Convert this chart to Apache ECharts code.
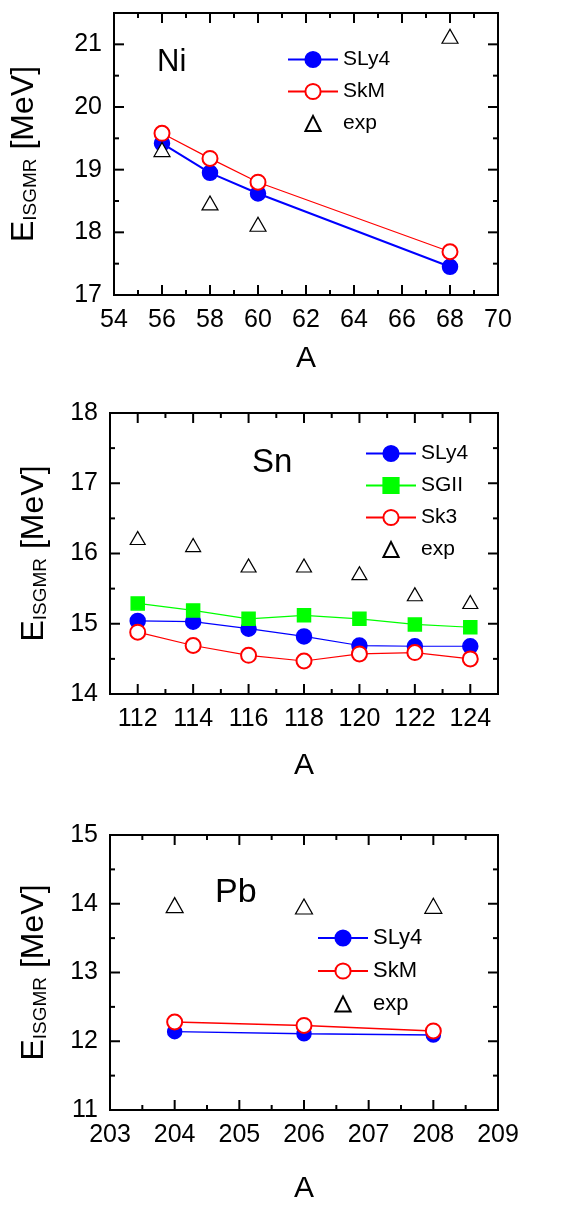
<!DOCTYPE html>
<html>
<head>
<meta charset="utf-8">
<script src="https://cdn.jsdelivr.net/npm/echarts@6/dist/echarts.min.js"></script>
<style>
  html, body { margin: 0; padding: 0; background: #fff; }
  #chart { width: 572px; height: 1205px; }
</style>
</head>
<body>
<div id="chart"></div>
<script>
// Ni
const niA = [56, 58, 60, 68];
const niSLy4 = [19.42, 18.95, 18.62, 17.45];
const niSkM = [19.58, 19.18, 18.80, 17.69];
const niExp = [19.32, 18.47, 18.13, 21.13];
// Sn
const snA = [112, 114, 116, 118, 120, 122, 124];
const snSLy4 = [15.04, 15.03, 14.93, 14.82, 14.69, 14.68, 14.68];
const snSGII = [15.29, 15.19, 15.07, 15.12, 15.07, 14.99, 14.95];
const snSk3 = [14.88, 14.69, 14.55, 14.47, 14.57, 14.59, 14.50];
const snExp = [16.22, 16.12, 15.83, 15.83, 15.72, 15.42, 15.31];
// Pb
const pbA = [204, 206, 208];
const pbSLy4 = [12.14, 12.11, 12.09];
const pbSkM = [12.28, 12.23, 12.15];
const pbExp = [13.98, 13.96, 13.97];

// axis ranges and tick values
const niXRange = [54, 70], niYRange = [17, 21.5];
const snXRange = [111, 125], snYRange = [14, 18];
const pbXRange = [203, 209], pbYRange = [11, 15];
const niXMajor = [54, 56, 58, 60, 62, 64, 66, 68, 70];
const niXMinor = [55, 57, 59, 61, 63, 65, 67, 69];
const niYMajor = [17, 18, 19, 20, 21];
const niYMinor = [17.5, 18.5, 19.5, 20.5];
const snXMajor = [112, 114, 116, 118, 120, 122, 124];
const snXMinor = [113, 115, 117, 119, 121, 123];
const snYMajor = [14, 15, 16, 17, 18];
const snYMinor = [14.5, 15.5, 16.5, 17.5];
const pbXMajor = [203, 204, 205, 206, 207, 208, 209];
const pbXMinor = [203.5, 204.5, 205.5, 206.5, 207.5, 208.5];
const pbYMajor = [11, 12, 13, 14, 15];
const pbYMinor = [11.5, 12.5, 13.5, 14.5];

const FONT = "'Liberation Sans', Arial, sans-serif";
const zip = (xs, ys) => xs.map((x, i) => [x, ys[i]]);

const yName = '{e|E}{s|ISGMR}{u| [MeV]}';

function xAxisOf(grid, range, labels, nameGap) {
  return {
    type: 'value', gridIndex: grid, min: range[0], max: range[1], position: 'bottom',
    axisLine: { show: false }, axisTick: { show: false }, splitLine: { show: false },
    axisLabel: { customValues: labels, color: '#000', fontSize: 25, fontFamily: FONT, margin: 13 },
    name: 'A', nameLocation: 'middle', nameGap: nameGap,
    nameTextStyle: { fontSize: 30, color: '#000', fontFamily: FONT }
  };
}
function yAxisOf(grid, range, labels, nameGap) {
  return {
    type: 'value', gridIndex: grid, min: range[0], max: range[1], position: 'left',
    axisLine: { show: false }, axisTick: { show: false }, splitLine: { show: false },
    axisLabel: { customValues: labels, color: '#000', fontSize: 25, fontFamily: FONT, margin: 12 },
    name: yName, nameLocation: 'middle', nameGap: nameGap, nameRotate: 90,
    nameTextStyle: {
      color: '#000', fontFamily: FONT,
      rich: {
        e: { fontSize: 32, fontFamily: FONT, color: '#000' },
        s: { fontSize: 19, lineHeight: 14, verticalAlign: 'bottom', fontFamily: FONT, color: '#000' },
        u: { fontSize: 32, fontFamily: FONT, color: '#000' }
      }
    }
  };
}

function lineSeries(name, grid, xs, ys, color, width, symbol, size, z) {
  return {
    name: name, type: 'line', xAxisIndex: grid, yAxisIndex: grid,
    data: zip(xs, ys), symbol: symbol, symbolSize: size, z: z,
    lineStyle: { color: color, width: width },
    itemStyle: { color: color, borderColor: color, borderWidth: 1.5 },
    emphasis: { disabled: true }
  };
}
function expSeries(name, grid, xs, ys, size) {
  return {
    name: name, type: 'line', xAxisIndex: grid, yAxisIndex: grid,
    data: zip(xs, ys), symbol: 'triangle', symbolSize: size, z: 10,
    lineStyle: { opacity: 0, width: 0 },
    itemStyle: { color: '#fff', borderColor: '#000', borderWidth: 1.2 },
    emphasis: { disabled: true }
  };
}

function legend(names, left, top, size) {
  return {
    data: names, orient: 'vertical', left: left, top: top, padding: 0,
    itemWidth: 50, itemHeight: 19, itemGap: 11, selectedMode: false,
    formatter: n => n.split('|')[1],
    textStyle: { fontSize: size, lineHeight: 19, color: '#000', fontFamily: FONT }
  };
}

function title(text, left, top, size) {
  return {
    text: text, left: left, top: top, padding: 0,
    textStyle: { fontSize: size, fontWeight: 'normal', color: '#000', fontFamily: FONT }
  };
}

const gridStyle = { show: true, borderColor: '#000', borderWidth: 2, backgroundColor: 'transparent' };

const option = {
  animation: false,
  backgroundColor: '#fff',
  title: [
    title('Ni', 157, 47, 31),
    title('Sn', 252, 446, 33),
    title('Pb', 215, 876, 34)
  ],
  legend: [
    legend(['Ni|SLy4', 'Ni|SkM', 'Ni|exp'], 287, 49, 21),
    legend(['Sn|SLy4', 'Sn|SGII', 'Sn|Sk3', 'Sn|exp'], 365, 443, 21),
    legend(['Pb|SLy4', 'Pb|SkM', 'Pb|exp'], 317, 927, 22)
  ],
  grid: [
    Object.assign({ left: 110, width: 388, top: 13, height: 282 }, gridStyle),
    Object.assign({ left: 110, width: 388, top: 413, height: 281 }, gridStyle),
    Object.assign({ left: 110, width: 388, top: 835, height: 282 }, gridStyle)
  ],
  xAxis: [
    xAxisOf(0, niXRange, niXMajor, 49),
    xAxisOf(1, snXRange, snXMajor, 57),
    xAxisOf(2, pbXRange, pbXMajor, 64)
  ],
  yAxis: [
    yAxisOf(0, niYRange, niYMajor, 74),
    yAxisOf(1, snYRange, snYMajor, 60),
    yAxisOf(2, pbYRange, pbYMajor, 60)
  ],
  series: [
    lineSeries('Ni|SLy4', 0, niA, niSLy4, '#0000ff', 2, 'circle', 15, 3),
    lineSeries('Ni|SkM', 0, niA, niSkM, '#ff0000', 1.2, 'emptyCircle', 15, 4),
    expSeries('Ni|exp', 0, niA, niExp, [16, 14]),
    lineSeries('Sn|SLy4', 1, snA, snSLy4, '#0000ff', 1.2, 'circle', 15, 3),
    lineSeries('Sn|SGII', 1, snA, snSGII, '#00ff00', 1.2, 'rect', 13, 4),
    lineSeries('Sn|Sk3', 1, snA, snSk3, '#ff0000', 1.2, 'emptyCircle', 15, 5),
    expSeries('Sn|exp', 1, snA, snExp, [15, 13]),
    lineSeries('Pb|SLy4', 2, pbA, pbSLy4, '#0000ff', 1.5, 'circle', 14, 3),
    lineSeries('Pb|SkM', 2, pbA, pbSkM, '#ff0000', 1.5, 'emptyCircle', 15, 4),
    expSeries('Pb|exp', 2, pbA, pbExp, [17, 15])
  ]
};

const chart = echarts.init(document.getElementById('chart'), null, { renderer: 'canvas' });
chart.setOption(option);

// inward ticks on all four sides, placed through each grid's own scales
const panels = [
  { grid: 0, xr: niXRange, yr: niYRange, xMajor: niXMajor, xMinor: niXMinor, yMajor: niYMajor, yMinor: niYMinor },
  { grid: 1, xr: snXRange, yr: snYRange, xMajor: snXMajor, xMinor: snXMinor, yMajor: snYMajor, yMinor: snYMinor },
  { grid: 2, xr: pbXRange, yr: pbYRange, xMajor: pbXMajor, xMinor: pbXMinor, yMajor: pbYMajor, yMinor: pbYMinor }
];

function tickGraphics(p) {
  const out = [];
  const at = (x, y) => chart.convertToPixel({ gridIndex: p.grid }, [x, y]);
  const seg = (a, b) => out.push({
    type: 'line', silent: true, z: 100,
    shape: { x1: a[0], y1: a[1], x2: b[0], y2: b[1] },
    style: { stroke: '#000', lineWidth: 2 }
  });
  const addX = (vals, len) => vals.forEach(v => {
    const b = at(v, p.yr[0]), t = at(v, p.yr[1]);
    seg(b, [b[0], b[1] - len]);
    seg(t, [t[0], t[1] + len]);
  });
  const addY = (vals, len) => vals.forEach(v => {
    const l = at(p.xr[0], v), r = at(p.xr[1], v);
    seg(l, [l[0] + len, l[1]]);
    seg(r, [r[0] - len, r[1]]);
  });
  addX(p.xMajor, 10);
  addX(p.xMinor, 5);
  addY(p.yMajor, 10);
  addY(p.yMinor, 5);
  return out;
}

chart.setOption({ graphic: { elements: [].concat(...panels.map(tickGraphics)) } });
</script>
</body>
</html>
